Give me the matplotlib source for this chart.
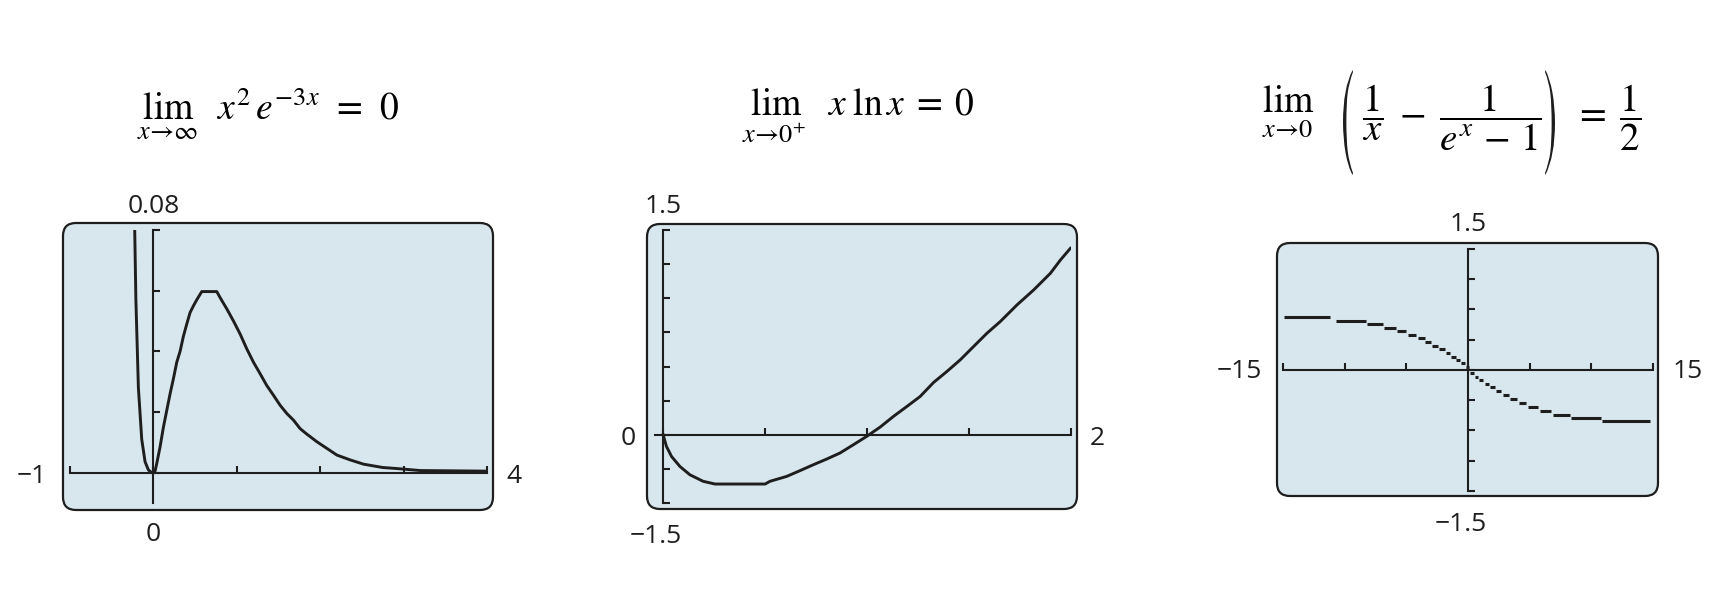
import matplotlib.pyplot as plt
import matplotlib.transforms as mtransforms
from matplotlib.patches import FancyBboxPatch, PathPatch
from matplotlib.textpath import TextPath
from matplotlib.font_manager import FontProperties

plt.rcParams['mathtext.fontset'] = 'stix'
plt.rcParams['font.family'] = ['Open Sans', 'DejaVu Sans']

# --- values read off the three calculator screens ---
# panel 1: x^2 e^(-3x), window [-1, 4] x [-0.01, 0.08]
p1_x = [-0.224, -0.21, -0.18, -0.14, -0.10, -0.06, -0.02, 0.0, 0.02, 0.04, 0.08,
        0.12, 0.16, 0.20, 0.24, 0.28, 0.32, 0.36, 0.40, 0.44, 0.48, 0.52, 0.58,
        0.76, 0.80, 0.88, 0.96, 1.04, 1.12, 1.20, 1.28, 1.36, 1.44, 1.52, 1.60,
        1.68, 1.76, 1.84, 1.96, 2.08, 2.20, 2.36, 2.52, 2.75, 2.90, 3.20, 4.0]
p1_y = [0.080, 0.057, 0.028, 0.011, 0.0036, 0.0009, 0.0, 0.0, 0.0005, 0.003, 0.0085,
        0.015, 0.0205, 0.026, 0.031, 0.0364, 0.040, 0.045, 0.049, 0.0528, 0.055, 0.057, 0.0597,
        0.0597, 0.0577, 0.054, 0.050, 0.0457, 0.0408, 0.0364, 0.0326, 0.0287, 0.0255, 0.0222, 0.0195,
        0.0173, 0.0145, 0.0127, 0.0102, 0.008, 0.0058, 0.0042, 0.0028, 0.0017, 0.0014, 0.0007, 0.0005]

# panel 2: x ln x, window [0, 2] x [-0.5, 1.5]
p2_x = [0.0, 0.016, 0.041, 0.082, 0.131, 0.196, 0.254, 0.50, 0.524, 0.606, 0.671,
        0.736, 0.802, 0.867, 0.933, 0.998, 1.064, 1.129, 1.195, 1.26, 1.326, 1.391,
        1.457, 1.522, 1.588, 1.653, 1.735, 1.817, 1.899, 1.948, 1.997]
p2_y = [0.0, -0.085, -0.159, -0.232, -0.293, -0.341, -0.361, -0.361, -0.341, -0.305, -0.263,
        -0.22, -0.178, -0.134, -0.073, -0.012, 0.056, 0.134, 0.207, 0.28, 0.383, 0.463,
        0.549, 0.646, 0.744, 0.829, 0.951, 1.061, 1.183, 1.28, 1.366]

# panel 3: pixel runs of the third screen, window [-15, 15] x [-1.5, 1.5]
p3_y = [0.655, 0.613, 0.568, 0.526, 0.481, 0.435, 0.394, 0.348, 0.302, 0.257, 0.215,
        0.166, 0.124, 0.083, 0.041, -0.041, -0.083, -0.124, -0.17, -0.215, -0.261,
        -0.311, -0.356, -0.406, -0.456, -0.51, -0.559, -0.60, -0.638]
p3_x0 = [-14.95, -10.73, -8.16, -6.81, -5.73, -4.86, -4.05, -3.46, -2.89, -2.35, -1.81,
         -1.35, -0.95, -0.54, -0.19, 0.14, 0.54, 0.89, 1.35, 1.76, 2.24,
         2.84, 3.43, 4.14, 4.86, 5.81, 6.89, 8.38, 10.89]
p3_x1 = [-11.16, -8.30, -6.89, -5.81, -5.0, -4.19, -3.51, -2.97, -2.43, -1.89, -1.43,
         -1.0, -0.62, -0.27, 0.08, 0.46, 0.81, 1.22, 1.70, 2.16, 2.70,
         3.32, 3.97, 4.68, 5.68, 6.76, 8.24, 10.81, 14.73]

title1 = r'$\lim_{x\to\infty}\;\;\, x^{2}e^{-3x} \;\,=\;\, 0$'
title2 = r'$\lim_{x\to 0^{+}}\;\;\, x\;\ln x \;=\; 0$'
# third statement is set in pieces so the brackets can be drawn tall
title3_lim = r'$\lim_{x\to 0}$'
title3_inner = r'$\dfrac{1}{x} \;-\; \dfrac{1}{e^{x} \,-\, 1}$'
title3_rhs = r'$=\;\dfrac{1}{2}$'

W, H = 1720, 594
BOX_FC = '#d8e6ee'
INK = '#1e1e1e'

fig = plt.figure(figsize=(W / 100, H / 100), dpi=100)
px = mtransforms.Affine2D().scale(0.01) + fig.dpi_scale_trans  # pixel units, origin bottom-left


def screen(win, box, xlim, ylim, xticks, yticks):
    # win / box given as (left, right, top, bottom) in pixels from the top-left corner
    x0, x1, y0, y1 = win
    ax = fig.add_axes([x0 / W, 1 - y1 / H, (x1 - x0) / W, (y1 - y0) / H])
    bx0, bx1, by0, by1 = box
    fig.add_artist(FancyBboxPatch((bx0, H - by1), bx1 - bx0, by1 - by0,
                                  boxstyle='round,pad=0,rounding_size=13',
                                  transform=px, fc=BOX_FC, ec=INK,
                                  lw=1.6, zorder=-1))
    ax.patch.set_visible(False)
    ax.set_xlim(xlim)
    ax.set_ylim(ylim)
    for s in ['top', 'right']:
        ax.spines[s].set_visible(False)
    ax.spines['left'].set_position(('data', 0))
    ax.spines['bottom'].set_position(('data', 0))
    for s in ['left', 'bottom']:
        ax.spines[s].set_linewidth(1.5)
        ax.spines[s].set_color(INK)
    ax.set_xticks(xticks)
    ax.set_yticks(yticks)
    ax.tick_params(direction='in', length=5, width=1.5, color=INK,
                   labelbottom=False, labelleft=False)
    return ax


def label(x, y, s, ha='center', size=19):
    fig.text(x / W, 1 - y / H, s, ha=ha, va='baseline', fontsize=size, color=INK)


def tall_paren(ch, x0, x1, y0, y1):
    tp = TextPath((0, 0), ch, size=40, prop=FontProperties(family='STIXGeneral'))
    ext = tp.get_extents()
    tr = (mtransforms.Affine2D().translate(-ext.x0, -ext.y0)
          .scale((x1 - x0) / ext.width, (y1 - y0) / ext.height)
          .translate(x0, H - y1)) + px
    fig.add_artist(PathPatch(tp, fc=INK, ec='none', transform=tr))


# panel 1
ax1 = screen((70, 487, 230, 503), (63, 493, 223, 510), (-1, 4), (-0.01, 0.08),
             [-1, 0, 1, 2, 3, 4], [0, 0.02, 0.04, 0.06, 0.08])
ax1.plot(p1_x, p1_y, color=INK, lw=2.1)
label(180, 213, '0.08', ha='right')
label(47, 483, '\u22121', ha='right')
label(506, 483, '4', ha='left')
label(153, 541, '0')

# panel 2
ax2 = screen((655, 1071, 230, 503), (647, 1077, 224, 509), (-0.04, 2), (-0.5, 1.5),
             [0, 0.5, 1, 1.5, 2], [-0.5, -0.25, 0, 0.25, 0.5, 0.75, 1.0, 1.25, 1.5])
ax2.plot(p2_x, p2_y, color=INK, lw=2.1)
label(682, 213, '1.5', ha='right')
label(636, 445, '0', ha='right')
label(1090, 445, '2', ha='left')
label(682, 543, '\u22121.5', ha='right')

# panel 3
ax3 = screen((1283, 1653, 249, 491), (1277, 1658, 243, 496), (-15, 15), (-1.5, 1.5),
             [-15, -10, -5, 0, 5, 10, 15],
             [-1.5, -1.125, -0.75, -0.375, 0, 0.375, 0.75, 1.125, 1.5])
ax3.hlines(p3_y, p3_x0, p3_x1, color=INK, lw=2.2)
label(1487, 231, '1.5', ha='right')
label(1262, 378, '\u221215', ha='right')
label(1673, 378, '15', ha='left')
label(1487, 531, '\u22121.5', ha='right')

# limit statements above each screen
fig.text(137 / W, 1 - 120 / H, title1, fontsize=27, ha='left', va='baseline')
fig.text(742 / W, 1 - 115 / H, title2, fontsize=27, ha='left', va='baseline')

fig.text(1262 / W, 1 - 112 / H, title3_lim, fontsize=27, ha='left', va='baseline')
tall_paren('(', 1343, 1353, 70, 175)
fig.text(1362 / W, 1 - 127 / H, title3_inner, fontsize=28, ha='left', va='baseline')
tall_paren(')', 1545, 1555, 70, 175)
fig.text(1574 / W, 1 - 127 / H, title3_rhs, fontsize=28, ha='left', va='baseline')

fig.savefig('out.png', dpi=100)
